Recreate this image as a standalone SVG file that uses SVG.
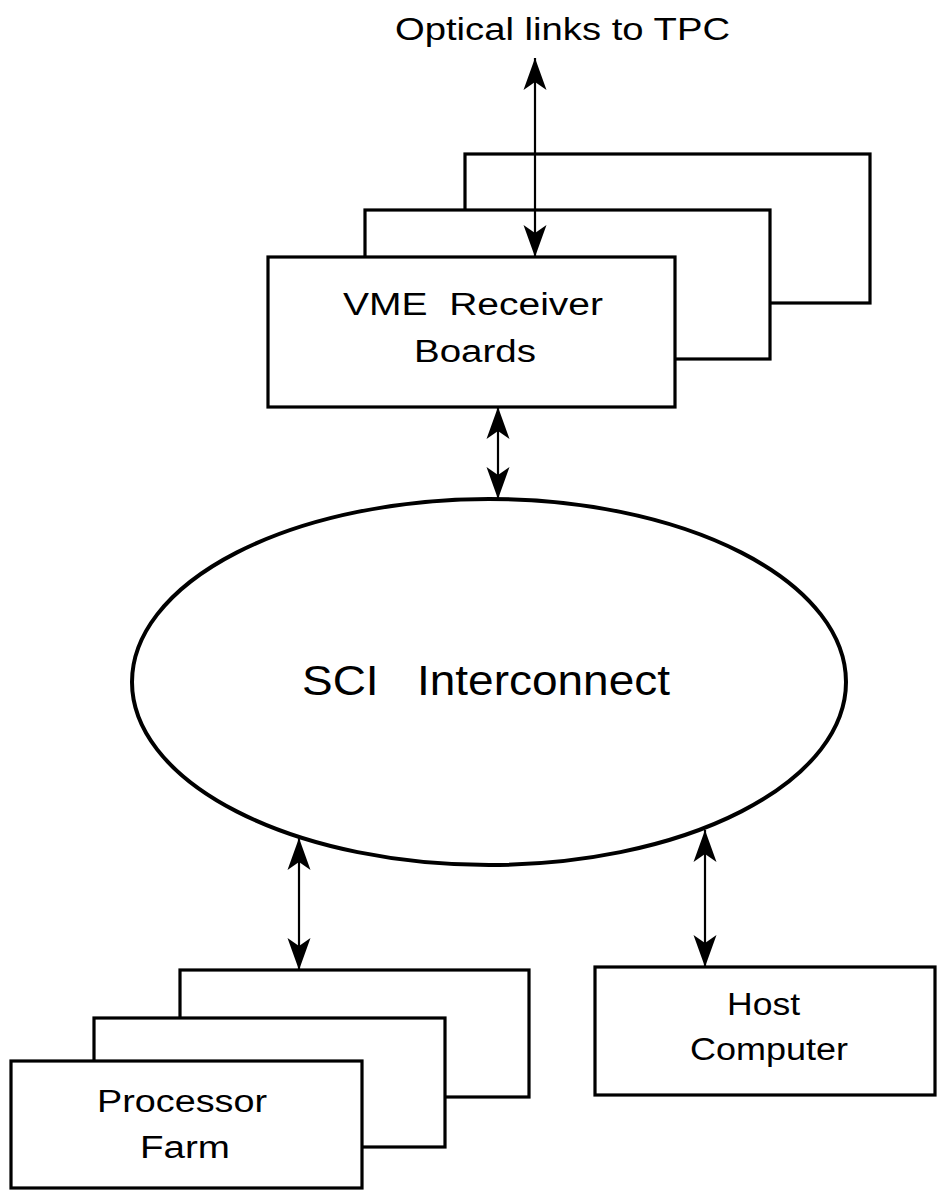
<svg xmlns="http://www.w3.org/2000/svg" width="937" height="1191" viewBox="0 0 937 1191">
  <style>
    .box { fill: #fff; stroke: #000; stroke-width: 3.2; }
    .oval { fill: #fff; stroke: #000; stroke-width: 4; }
    .link { fill: none; stroke: #000; stroke-width: 2.2; marker-start: url(#head); marker-end: url(#head); }
    .lbl { font-family: "Liberation Sans", Arial, Helvetica, sans-serif; font-size: 31px; fill: #000; }
    .big { font-size: 42px; }
  </style>
  <defs>
    <!-- barbed arrowhead, tip at the origin pointing along +x -->
    <marker id="head" viewBox="-33 -12 34 24" markerWidth="34" markerHeight="24" refX="0" refY="0" markerUnits="userSpaceOnUse" orient="auto-start-reverse">
      <path d="M0,0 L-32,-11.5 L-24,0 L-32,11.5 Z" fill="#000"/>
    </marker>
  </defs>

  <text class="lbl" x="395" y="40" font-size="32" textLength="335" lengthAdjust="spacingAndGlyphs">Optical links to TPC</text>

  <g id="vme-boards">
    <rect class="box" x="465" y="154" width="405" height="149"/>
    <rect class="box" x="365" y="210" width="405" height="149"/>
    <rect class="box" x="268" y="257" width="407" height="150"/>
    <text class="lbl" x="343" y="315" textLength="260" lengthAdjust="spacingAndGlyphs">VME&#160; Receiver</text>
    <text class="lbl" x="414" y="362" textLength="122" lengthAdjust="spacingAndGlyphs">Boards</text>
  </g>

  <g id="sci-interconnect">
    <ellipse class="oval" cx="489" cy="682" rx="357" ry="183"/>
    <text class="lbl big" x="302" y="695" textLength="368" lengthAdjust="spacingAndGlyphs">SCI&#160;&#160; Interconnect</text>
  </g>

  <g id="processor-farm">
    <rect class="box" x="180" y="970" width="349" height="127"/>
    <rect class="box" x="94" y="1018" width="351" height="129"/>
    <rect class="box" x="11" y="1061" width="351" height="127"/>
    <text class="lbl" x="97" y="1112" textLength="170" lengthAdjust="spacingAndGlyphs">Processor</text>
    <text class="lbl" x="140" y="1158" textLength="90" lengthAdjust="spacingAndGlyphs">Farm</text>
  </g>

  <g id="host-computer">
    <rect class="box" x="595" y="967" width="340" height="128"/>
    <text class="lbl" x="727" y="1015" textLength="73" lengthAdjust="spacingAndGlyphs">Host</text>
    <text class="lbl" x="690" y="1060" textLength="158" lengthAdjust="spacingAndGlyphs">Computer</text>
  </g>

  <g id="connectors">
    <path class="link" d="M535,58 L535,257"/>
    <path class="link" d="M498,407 L498,499"/>
    <path class="link" d="M299,838 L299,970"/>
    <path class="link" d="M705,830 L705,967"/>
  </g>
</svg>
